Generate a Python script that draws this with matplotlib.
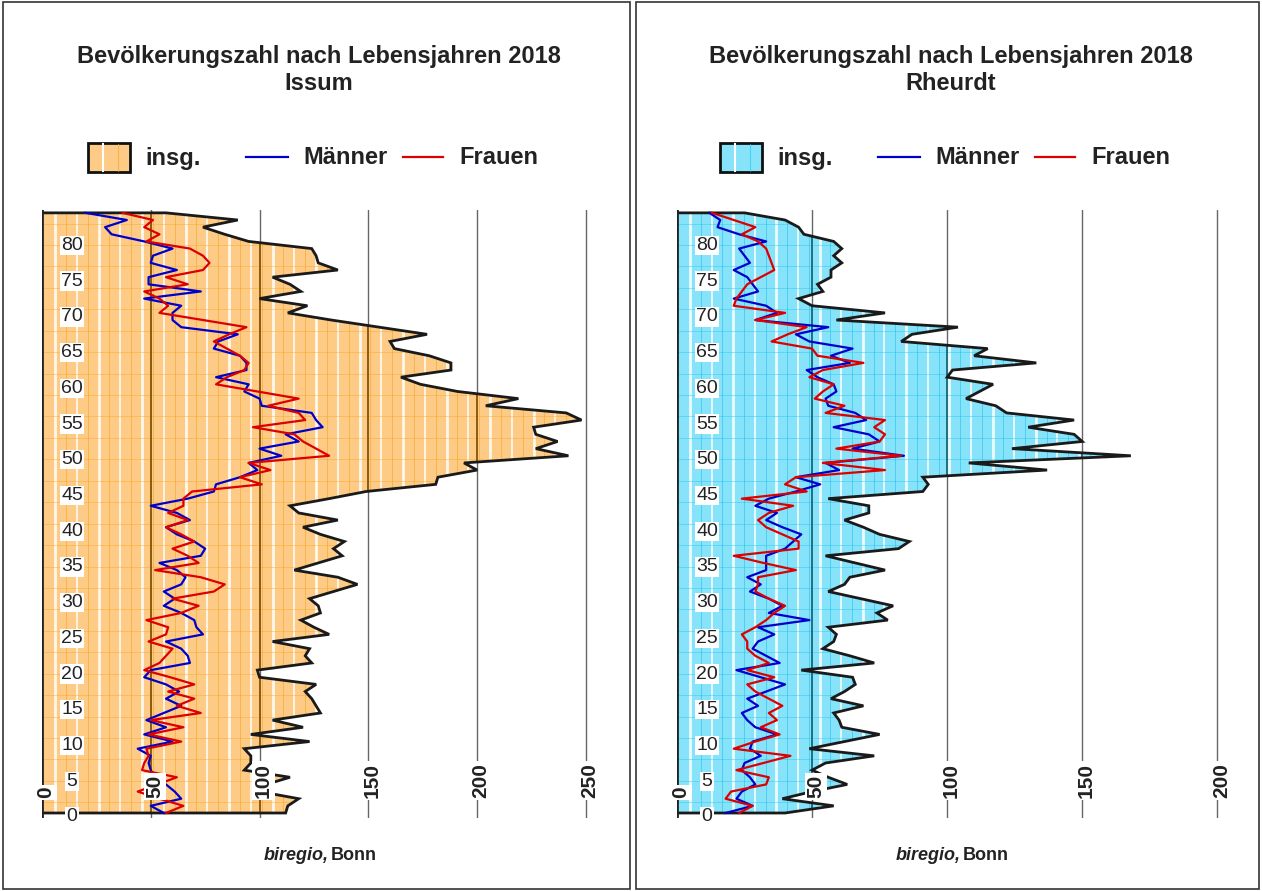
import numpy as np
import matplotlib.pyplot as plt
from matplotlib.patches import Polygon, Rectangle
from matplotlib.lines import Line2D

plt.rcParams['font.family'] = ['Liberation Sans', 'DejaVu Sans']

W, H = 1262, 891

# population by age 0..84
issum_total = [112, 113, 118, 100, 103, 114, 93, 96, 96, 93,
               123, 96, 120, 106, 128, 126, 124, 121, 126, 100,
               99, 124, 121, 123, 106, 132, 125, 119, 128, 127,
               123, 134, 145, 136, 116, 127, 138, 134, 139, 128,
               120, 136, 118, 114, 132, 149, 181, 182, 200, 194,
               242, 227, 237, 227, 226, 248, 241, 204, 219, 191,
               174, 165, 188, 188, 178, 162, 160, 177, 155, 133,
               113, 122, 100, 119, 114, 106, 136, 127, 126, 124,
               95, 84, 74, 90, 57]
issum_men = [56, 50, 64, 61, 57, 52, 50, 49, 50, 44,
             60, 47, 57, 48, 56, 64, 57, 63, 57, 47,
             50, 68, 67, 64, 57, 74, 71, 70, 64, 56,
             61, 56, 64, 66, 62, 54, 73, 75, 70, 62,
             57, 68, 62, 50, 67, 79, 80, 91, 99, 95,
             110, 100, 118, 112, 129, 126, 124, 101, 100, 93,
             95, 80, 94, 94, 91, 79, 81, 90, 64, 60,
             60, 64, 47, 73, 49, 49, 62, 50, 51, 60,
             47, 32, 29, 39, 20]
issum_women = [57, 65, 54, 44, 53, 62, 46, 47, 49, 48,
               64, 49, 65, 50, 73, 62, 70, 58, 70, 59,
               47, 54, 57, 60, 49, 57, 58, 48, 64, 72,
               60, 79, 84, 73, 52, 72, 67, 60, 70, 64,
               57, 67, 58, 65, 65, 69, 101, 91, 105, 95,
               132, 126, 120, 116, 97, 121, 118, 104, 118, 99,
               80, 85, 93, 95, 91, 85, 79, 86, 94, 74,
               54, 58, 54, 47, 67, 57, 74, 77, 74, 68,
               48, 54, 47, 51, 37]

rheurdt_total = [40, 58, 39, 50, 63, 56, 50, 55, 73, 49,
                 62, 75, 61, 60, 58, 69, 57, 62, 66, 65,
                 46, 73, 64, 54, 58, 59, 56, 78, 74, 80,
                 68, 56, 62, 64, 77, 66, 55, 82, 86, 75,
                 69, 62, 71, 71, 56, 91, 93, 91, 137, 108,
                 168, 124, 150, 147, 130, 147, 122, 118, 107, 112,
                 117, 100, 102, 133, 110, 115, 83, 87, 104, 59,
                 77, 50, 45, 54, 52, 57, 57, 61, 58, 61,
                 58, 47, 45, 40, 25]
rheurdt_men = [18, 28, 22, 24, 29, 27, 24, 25, 31, 27,
               28, 37, 29, 26, 24, 30, 26, 33, 40, 31,
               22, 38, 33, 28, 30, 36, 30, 49, 34, 39,
               34, 27, 31, 26, 33, 33, 33, 40, 43, 46,
               39, 33, 37, 29, 34, 44, 53, 44, 60, 55,
               84, 65, 75, 71, 58, 70, 66, 56, 55, 59,
               58, 52, 48, 64, 57, 65, 49, 44, 56, 29,
               37, 33, 21, 30, 28, 26, 21, 27, 25, 23,
               33, 23, 15, 16, 12]
rheurdt_women = [23, 28, 18, 20, 33, 34, 22, 32, 42, 21,
                 29, 38, 31, 37, 34, 39, 34, 29, 26, 36,
                 26, 34, 29, 26, 26, 24, 29, 33, 36, 40,
                 34, 29, 30, 30, 44, 32, 21, 45, 45, 39,
                 33, 30, 34, 43, 24, 48, 40, 44, 77, 54,
                 83, 59, 75, 77, 73, 77, 55, 62, 51, 54,
                 58, 49, 54, 69, 52, 50, 35, 41, 48, 29,
                 40, 21, 22, 24, 26, 31, 36, 35, 34, 33,
                 30, 24, 29, 21, 13]

TITLE = 'Bevölkerungszahl nach Lebensjahren 2018'


def fx(px):
    return px / W


def fy(py):
    return 1 - py / H


def draw_panel(left_px, right_px, xmax, total, men, women,
               fill_col, grid_in, tex_col, stripe_step, name, dx):
    ax = fig.add_axes([fx(left_px), fy(818), fx(right_px - left_px), (818 - 210) / H])
    ages = np.arange(len(total))
    ax.set_xlim(0, xmax + 1)
    ax.set_ylim(-0.7, 84.4)
    ax.axis('off')

    for g in range(50, xmax + 1, 50):
        ax.axvline(g, color='#666666', lw=1.0, zorder=1)

    verts = [(0, 0)] + list(zip(total, ages)) + [(0, ages[-1])]
    poly = Polygon(verts, closed=True, facecolor=fill_col, edgecolor='none', zorder=2)
    ax.add_patch(poly)

    # texture inside the area
    for i, x in enumerate(np.arange(stripe_step * 0.6, xmax, stripe_step)):
        l, = ax.plot([x, x], [-1, 86], color='white', lw=1.3 if i % 2 else 2.0,
                     alpha=0.85, zorder=3)
        l.set_clip_path(poly)
        l2, = ax.plot([x + stripe_step / 2] * 2, [-1, 86], color=tex_col, lw=0.7,
                      alpha=0.6, zorder=3)
        l2.set_clip_path(poly)
    for y in np.arange(1.5, 85, 3):
        l, = ax.plot([0, xmax], [y, y], color=tex_col, lw=0.6, alpha=0.5, zorder=3)
        l.set_clip_path(poly)
    for g in range(50, xmax + 1, 50):
        l, = ax.plot([g, g], [-1, 86], color=grid_in, lw=1.4, zorder=3)
        l.set_clip_path(poly)

    xs, ys = zip(*verts)
    ax.plot(xs, ys, color='#1a1a1a', lw=2.0, zorder=5, solid_joinstyle='miter')
    ax.plot(men, ages, color='#0000CC', lw=1.6, zorder=6)
    ax.plot(women, ages, color='#DD0000', lw=1.6, zorder=6)
    ax.plot([0, 0], [-0.7, 84.4], color='#222222', lw=2.0, zorder=7)

    for a in range(0, 81, 5):
        ax.annotate(str(a), xy=(0, a), xytext=(30, -4), textcoords='offset pixels',
                    ha='center', va='center', fontsize=14, color='#222222',
                    bbox=dict(boxstyle='square,pad=0.06', fc='white', ec='none'),
                    zorder=8)
    for v in range(0, xmax + 1, 50):
        ax.annotate(str(v), xy=(v, 0), xytext=(4, 15), textcoords='offset pixels',
                    ha='center', va='bottom', rotation=90, fontsize=15,
                    fontweight='bold', color='#222222',
                    bbox=dict(boxstyle='square,pad=0.08', fc='white', ec='none'),
                    zorder=8)

    cx = 319 + dx
    fig.text(fx(cx), fy(56), TITLE, ha='center', va='center', fontsize=17,
             fontweight='bold', color='#222222')
    fig.text(fx(cx), fy(84), name, ha='center', va='center', fontsize=17,
             fontweight='bold', color='#222222')

    # legend
    fig.add_artist(Rectangle((fx(88 + dx), fy(172)), fx(42), 29 / H,
                             transform=fig.transFigure, fc=fill_col, ec='#111111', lw=2))
    fig.add_artist(Line2D([fx(103 + dx)] * 2, [fy(171), fy(144)], color='white', lw=1.5))
    fig.add_artist(Line2D([fx(118 + dx)] * 2, [fy(171), fy(144)], color=tex_col,
                          lw=0.8, alpha=0.6))
    fig.text(fx(145 + dx), fy(158), 'insg.', ha='left', va='center', fontsize=17,
             fontweight='bold', color='#222222')
    fig.add_artist(Line2D([fx(246 + dx), fx(288 + dx)], [fy(157)] * 2,
                          color='#0000CC', lw=1.6))
    fig.text(fx(303 + dx), fy(158), 'Männer', ha='left', va='center', fontsize=17,
             fontweight='bold', color='#222222')
    fig.add_artist(Line2D([fx(403 + dx), fx(443 + dx)], [fy(157)] * 2,
                          color='#DD0000', lw=1.6))
    fig.text(fx(459 + dx), fy(158), 'Frauen', ha='left', va='center', fontsize=17,
             fontweight='bold', color='#222222')

    # source
    fig.text(fx(cx + 10), fy(855), 'biregio,', ha='right', va='center', fontsize=13,
             fontweight='bold', style='italic', color='#222222')
    fig.text(fx(cx + 12), fy(855), 'Bonn', ha='left', va='center', fontsize=13,
             fontweight='bold', color='#222222')
    return ax


fig = plt.figure(figsize=(W / 100, H / 100), dpi=100)
fig.patch.set_facecolor('white')

fig.add_artist(Rectangle((fx(3), fy(889)), fx(627), 887 / H, transform=fig.transFigure,
                         fill=False, ec='#333333', lw=1.2))
fig.add_artist(Rectangle((fx(636), fy(889)), fx(623), 887 / H, transform=fig.transFigure,
                         fill=False, ec='#333333', lw=1.2))

draw_panel(42, 588, 250, issum_total, issum_men, issum_women,
           '#FECB86', '#8A5A12', '#F5A623', 10, 'Issum', 0)
draw_panel(677, 1220, 200, rheurdt_total, rheurdt_men, rheurdt_women,
           '#86E3FA', '#1F6F80', '#22C4EE', 8, 'Rheurdt', 632)

fig.savefig('out.png', dpi=100, facecolor='white')
